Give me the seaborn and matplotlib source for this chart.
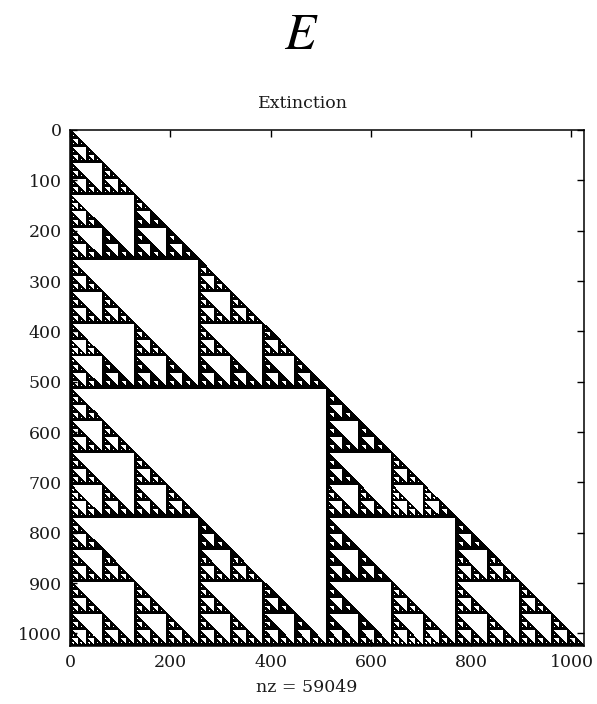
import numpy as np
import pandas as pd
import matplotlib
matplotlib.use("Agg")
import matplotlib.pyplot as plt
import seaborn as sns

# Matrix size and axis labelling
n_size = 1024
x_ticks = [0, 200, 400, 600, 800, 1000]
y_ticks = [0, 100, 200, 300, 400, 500, 600, 700, 800, 900, 1000]
panel_letter = "E"
panel_title = "Extinction"

# Sparsity pattern: entry (i, j) is nonzero when binomial(i, j) is odd
idx = np.arange(n_size)
ii, jj = np.meshgrid(idx, idx, indexing="ij")
mask = (jj <= ii) & ((ii & jj) == jj)
rows, cols = np.nonzero(mask)
spy_df = pd.DataFrame({"col": cols + 1, "row": rows + 1})
nz = len(spy_df)

sns.set_theme(style="white")
plt.rcParams["font.family"] = ["DejaVu Serif"]
plt.rcParams["mathtext.fontset"] = "stix"

fig = plt.figure(figsize=(5.97, 7.04), dpi=100)
W, H = 597, 704
ax = fig.add_axes([70 / W, 1 - 646 / H, 514 / W, 516 / H])

sns.scatterplot(data=spy_df, x="col", y="row", marker="s", s=1.8,
                color="black", linewidth=0, edgecolor="none",
                legend=False, ax=ax, rasterized=True)

ax.set_xlim(0, n_size + 1)
ax.set_ylim(n_size + 1, 0)
ax.set_xticks(x_ticks)
ax.set_yticks(y_ticks)
ax.set_xticklabels([str(t) for t in x_ticks])
ax.set_yticklabels([str(t) for t in y_ticks])
ax.tick_params(direction="in", length=5, width=1, color="black",
               labelsize=12.5, labelcolor="#1a1a1a",
               top=True, right=True, bottom=True, left=True, pad=6)
for sp in ax.spines.values():
    sp.set_visible(True)
    sp.set_color("black")
    sp.set_linewidth(1.1)
ax.set_xlabel("")
ax.set_ylabel("")

fig.text(0.5 + 4 / W, 1 - 103 / H, panel_title, ha="center", va="center",
         fontsize=12.5, color="#1a1a1a")
fig.text(0.5 + 8 / W, 1 - 688 / H, f"nz = {nz}", ha="center", va="center",
         fontsize=12.5, color="#1a1a1a")
fig.text(0.5 + 3 / W, 1 - 35 / H, f"${panel_letter}$", ha="center",
         va="center", fontsize=37, color="black")

fig.savefig("out.png", dpi=100, facecolor="white")
